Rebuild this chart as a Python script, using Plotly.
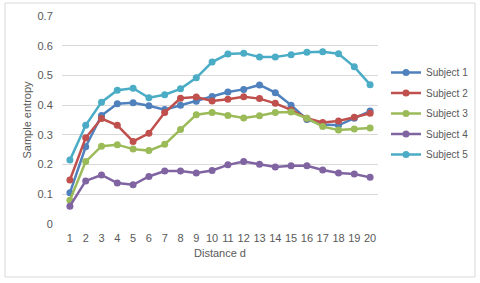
import plotly.graph_objects as go

distance = list(range(1, 21))
subject1 = [0.105, 0.26, 0.365, 0.405, 0.408, 0.398, 0.385, 0.40, 0.413, 0.429, 0.444, 0.453, 0.468, 0.442, 0.40, 0.352, 0.335, 0.332, 0.356, 0.38]
subject2 = [0.148, 0.29, 0.355, 0.332, 0.278, 0.305, 0.375, 0.423, 0.427, 0.414, 0.42, 0.428, 0.422, 0.406, 0.384, 0.356, 0.342, 0.347, 0.359, 0.373]
subject3 = [0.08, 0.21, 0.262, 0.267, 0.252, 0.247, 0.268, 0.318, 0.368, 0.375, 0.365, 0.357, 0.364, 0.375, 0.377, 0.356, 0.328, 0.316, 0.32, 0.323]
subject4 = [0.06, 0.145, 0.165, 0.138, 0.132, 0.16, 0.178, 0.178, 0.172, 0.18, 0.199, 0.21, 0.201, 0.192, 0.196, 0.196, 0.182, 0.172, 0.168, 0.157]
subject5 = [0.215, 0.332, 0.41, 0.45, 0.457, 0.425, 0.435, 0.455, 0.492, 0.545, 0.572, 0.575, 0.562, 0.562, 0.57, 0.578, 0.58, 0.573, 0.529, 0.469]

names = ["Subject 1", "Subject 2", "Subject 3", "Subject 4", "Subject 5"]
series = [subject1, subject2, subject3, subject4, subject5]
colors = ["#4F81BD", "#C0504D", "#9BBB59", "#8064A2", "#4BACC6"]

fig = go.Figure()
for n, s, c in zip(names, series, colors):
    fig.add_trace(go.Scatter(x=distance, y=s, name=n, mode="lines+markers",
                             legendgroup=n,
                             line=dict(color=c, width=2.5),
                             marker=dict(color=c, size=7)))

W, H = 480, 283
ml, mr, mt, mb = 62, 102, 16, 59
pw = W - ml - mr
ph = H - mt - mb

fig.update_layout(
    width=W, height=H,
    margin=dict(l=ml, r=mr, t=mt, b=mb, autoexpand=False),
    paper_bgcolor="white", plot_bgcolor="white",
    font=dict(family="Liberation Sans, Arial, sans-serif", size=11, color="#595959"),
    xaxis=dict(range=[0.5, 20.5], tickmode="array", tickvals=distance,
               showgrid=False, zeroline=False, showline=False,
               ticks="outside", ticklen=4, tickcolor="rgba(0,0,0,0)",
               title=dict(text="Distance d", standoff=6, font=dict(size=11)),
               tickfont=dict(size=11)),
    yaxis=dict(range=[0, 0.7], dtick=0.1, showgrid=True,
               gridcolor="#D9D9D9", gridwidth=1, zeroline=False, showline=False,
               ticks="outside", ticklen=6, tickcolor="rgba(0,0,0,0)",
               title=dict(text="Sample entropy", standoff=3, font=dict(size=11)),
               tickfont=dict(size=11)),
    legend=dict(x=(386 - ml) / pw, y=(H - mb - 58) / ph, xanchor="left", yanchor="top",
                font=dict(size=10), tracegroupgap=1.5, itemwidth=30,
                bgcolor="rgba(0,0,0,0)"),
    showlegend=True,
)

fig.add_shape(type="rect", xref="paper", yref="paper",
              x0=(5 - ml) / pw, x1=(475 - ml) / pw,
              y0=(H - mb - 277) / ph, y1=(H - mb - 3) / ph,
              line=dict(color="#D9D9D9", width=1), fillcolor="rgba(0,0,0,0)", layer="above")

fig.write_html("out.html", config={"displayModeBar": False},
               post_script="document.body.style.margin='0';document.body.style.padding='0';")
